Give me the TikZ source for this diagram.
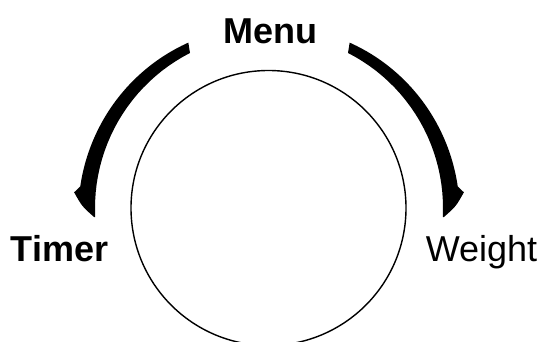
\documentclass[tikz,border=0pt]{standalone}
\usepackage{fontspec}
\setmainfont{Liberation Sans}
\begin{document}
\begin{tikzpicture}[x=1pt,y=-1pt,
  lbl/.style={inner sep=0pt,anchor=base,font=\fontsize{36}{40}\selectfont},
  dialarrow/.style={fill=black}]
\useasboundingbox (0,0) rectangle (548,342);
\begin{scope}
\clip (0,0) rectangle (548,342);
\draw[line width=1.4pt] (268.5,208) circle[radius=137.5];
\end{scope}
\node[lbl,font=\fontsize{36}{40}\selectfont\bfseries] (menu) at (270.5,44) {Menu};
\node[lbl,font=\fontsize{36}{40}\selectfont\bfseries] (timer) at (59.5,261) {Timer};
\node[lbl] (weight) at (481.5,261) {Weight};
\foreach \s in {1,-1}{
\begin{scope}[shift={(269,208)},xscale=\s]
\fill[dialarrow] (243:174) -- (244:184)
  -- plot[smooth,domain=244:186.5,samples=25] (\x:{184+6*(244-\x)/57.5})
  -- (184.6:195.5) .. controls (180.5:187) .. (177:175)
  -- plot[domain=177:243,samples=25] (\x:174) -- cycle;
\end{scope}
}
\end{tikzpicture}
\end{document}
